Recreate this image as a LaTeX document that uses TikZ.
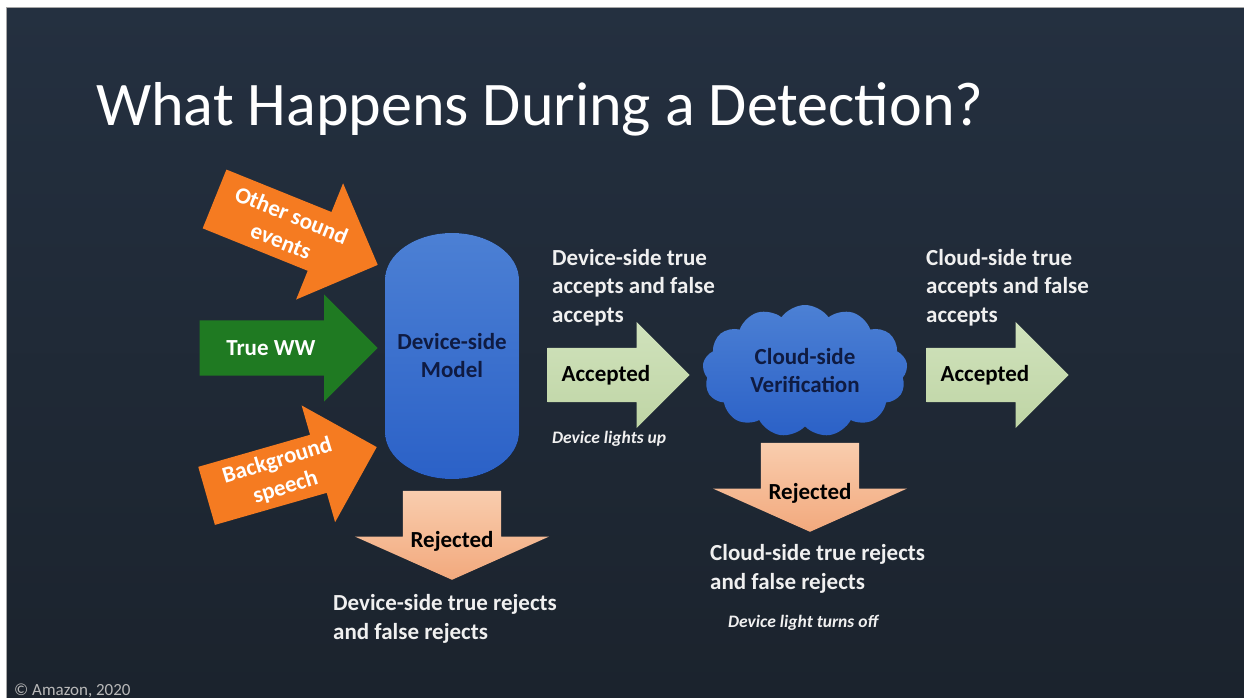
\documentclass[tikz,border=0pt]{standalone}
\usepackage{fontspec}
\setmainfont{Carlito}
\usetikzlibrary{positioning, shapes.arrows, shapes.symbols, calc}

\definecolor{slidebg}{HTML}{243040}
\definecolor{slidebgdark}{HTML}{1B232D}
\definecolor{soundorange}{HTML}{F57B21}
\definecolor{wwgreen}{HTML}{1F7A22}
\definecolor{acceptlight}{HTML}{D0E2BC}
\definecolor{acceptdark}{HTML}{BFD5A5}
\definecolor{rejectlight}{HTML}{F9CDAE}
\definecolor{rejectdark}{HTML}{F2A97D}
\definecolor{bluelight}{HTML}{4C80D4}
\definecolor{bluedark}{HTML}{2B61C7}
\definecolor{labelnavy}{HTML}{0F1B42}
\definecolor{sidetext}{HTML}{F0F0F0}

\begin{document}
\begin{tikzpicture}[x=1pt, y=-1pt,
    block arrow/.style={single arrow, draw=none, inner xsep=0pt, minimum width=1pt},
    accept arrow/.style={block arrow, top color=acceptlight, bottom color=acceptdark, shading angle=0,
      inner ysep=27, single arrow head extend=26, minimum height=142},
    reject arrow/.style={block arrow, top color=rejectlight, bottom color=rejectdark, rotate=-90,
      inner ysep=49, single arrow head extend=48, single arrow tip angle=132, minimum height=89},
    arrow text/.style={font=\bfseries\fontsize{23}{28}\selectfont, align=center, inner sep=0pt},
    side text/.style={font=\bfseries\fontsize{23}{28.5}\selectfont, text=sidetext, align=left,
      inner sep=0pt, anchor=base west},
    note text/.style={font=\bfseries\itshape\fontsize{17.5}{20}\selectfont, text=sidetext,
      inner sep=0pt, anchor=base west}]

  \useasboundingbox (0,0) rectangle (1244,698);
  \fill[white] (0,0) rectangle (1244,698);
  \fill[top color=slidebg, bottom color=slidebgdark] (6,8) rectangle (1244,698);
  \draw[gray!70, line width=1] (6,698) -- (6,8) -- (1244,8);

  \node (title) [anchor=base west, inner sep=0pt, text=white, font=\fontsize{62}{70}\selectfont]
    at (96,125) {What Happens During a Detection?};

  % what reaches the device
  \node (other) [block arrow, fill=soundorange, rotate=-22, anchor=tip,
    inner ysep=31.5, single arrow head extend=31, minimum height=176] at (378,265) {};
  \node (ww) [block arrow, fill=wwgreen, anchor=tip,
    inner ysep=27.5, single arrow head extend=26, minimum height=178] at (378,348) {};
  \node (bg) [block arrow, fill=soundorange, rotate=16, anchor=tip,
    inner ysep=30, single arrow head extend=30.5, minimum height=177] at (377,447) {};

  \node [arrow text, text=white, rotate=-22] at ($(other.tail)!0.44!(other.tip)$) {Other sound\\events};
  \node [arrow text, text=white] at ($(ww.tail)!0.4!(ww.tip)$) {True WW};
  \node [arrow text, text=white, rotate=17] at ($(bg.tail)!0.44!(bg.tip)$) {Background\\speech};

  % device-side model
  \fill[top color=bluelight, bottom color=bluedark]
    (385,280) arc[start angle=180, end angle=360, x radius=67, y radius=47]
    -- (519,432) arc[start angle=0, end angle=180, x radius=67, y radius=47] -- cycle;
  \node (model) [arrow text, text=labelnavy] at (452,356) {Device-side\\Model};

  % device-side outcome
  \node (acc1) [accept arrow, anchor=tip] at (690,375) {};
  \node [arrow text] at ($(acc1.tail)!0.41!(acc1.tip)$) {Accepted};
  \node (rej1) [reject arrow, anchor=tip] at (452,580) {};
  \node [arrow text] at ($(rej1.tail)!0.57!(rej1.tip)$) {Rejected};

  \node (acc1txt) [side text] at (552,322) {Device-side true\\accepts and false\\accepts};
  \node (lightsup) [note text] at (552,443) {Device lights up};
  \node (rej1txt) [side text] at (333,639) {Device-side true rejects\\and false rejects};

  % cloud-side verification
  \node (verify) [cloud, cloud puffs=13, cloud puff arc=110, aspect=1.55, minimum width=205,
    minimum height=132, top color=bluelight, bottom color=bluedark, arrow text, text=labelnavy]
    at (805,371) {Cloud-side\\Verification};

  \node (acc2) [accept arrow, anchor=tip] at (1069,375) {};
  \node [arrow text] at ($(acc2.tail)!0.41!(acc2.tip)$) {Accepted};
  \node (rej2) [reject arrow, anchor=tip] at (810,532) {};
  \node [arrow text] at ($(rej2.tail)!0.57!(rej2.tip)$) {Rejected};

  \node (acc2txt) [side text] at (926,322) {Cloud-side true\\accepts and false\\accepts};
  \node (rej2txt) [side text] at (710,589) {Cloud-side true rejects\\and false rejects};
  \node (lightoff) [note text] at (728,627) {Device light turns off};

  \node (copy) [anchor=base west, inner sep=0pt, text=gray!55!white, font=\fontsize{17}{20}\selectfont]
    at (14,695) {© Amazon, 2020};
\end{tikzpicture}
\end{document}
